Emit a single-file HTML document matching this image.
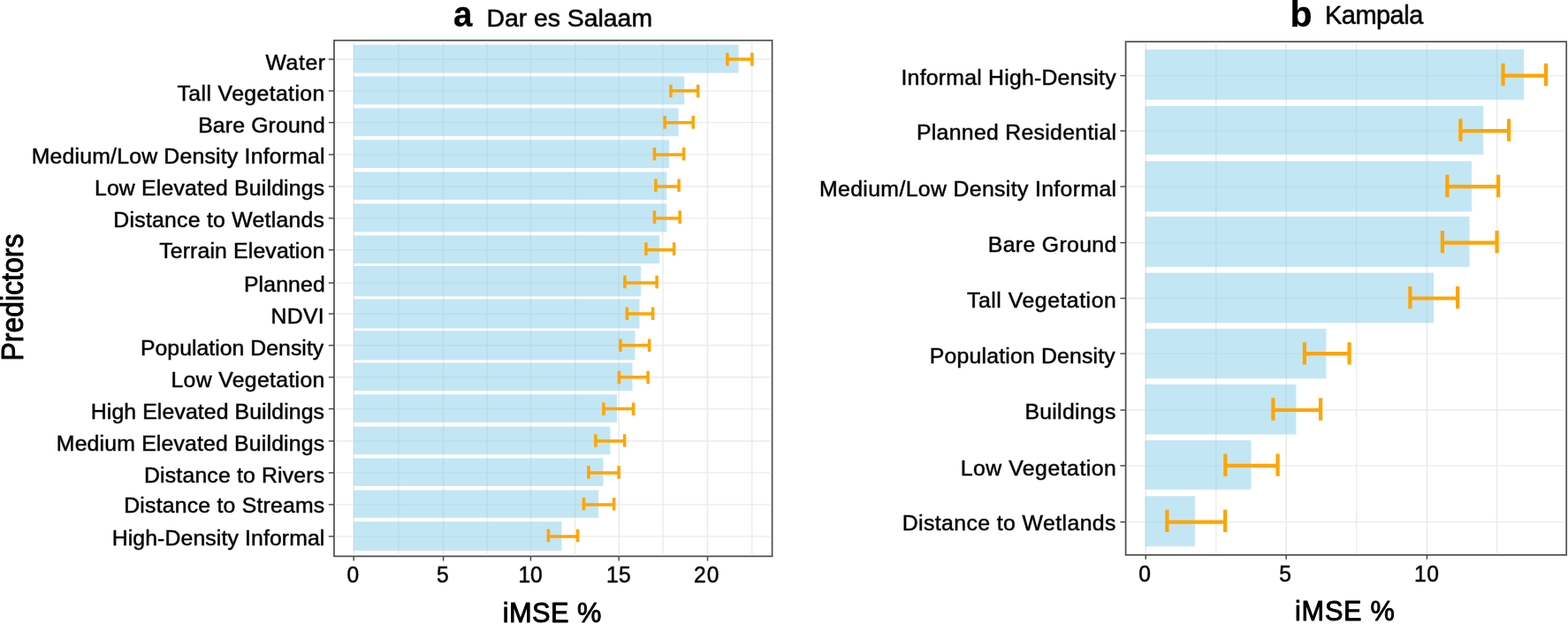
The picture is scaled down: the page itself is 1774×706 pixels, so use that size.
<!DOCTYPE html>
<html lang="en">
<head>
<meta charset="utf-8">
<title>Variable importance (iMSE %) - Dar es Salaam and Kampala</title>
<style>
html,body{margin:0;padding:0;background:#fff;}
body{width:1774px;height:706px;overflow:hidden;font-family:"Liberation Sans", Arial, Helvetica, sans-serif;}
svg{display:block;}
svg text{font-family:"Liberation Sans", Arial, Helvetica, sans-serif;}
</style>
</head>
<body>
<svg width="1774" height="706" viewBox="0 0 1774 706" font-family='"Liberation Sans", Arial, Helvetica, sans-serif' fill="#000">
<rect width="1774" height="706" fill="#fff"/>
<g id="panel-a">
<g class="grid" stroke="#ebebeb" fill="none"><line x1="450.90" x2="450.90" y1="47.90" y2="627.20" stroke-width="1.4"/><line x1="551.00" x2="551.00" y1="47.90" y2="627.20" stroke-width="1.4"/><line x1="650.80" x2="650.80" y1="47.90" y2="627.20" stroke-width="1.4"/><line x1="749.90" x2="749.90" y1="47.90" y2="627.20" stroke-width="1.4"/><line x1="850.80" x2="850.80" y1="47.90" y2="627.20" stroke-width="1.4"/><line x1="400.15" x2="400.15" y1="47.90" y2="627.20" stroke-width="1.6"/><line x1="501.60" x2="501.60" y1="47.90" y2="627.20" stroke-width="1.6"/><line x1="600.40" x2="600.40" y1="47.90" y2="627.20" stroke-width="1.6"/><line x1="700.20" x2="700.20" y1="47.90" y2="627.20" stroke-width="1.6"/><line x1="800.50" x2="800.50" y1="47.90" y2="627.20" stroke-width="1.6"/><line x1="380.20" x2="871.40" y1="67.05" y2="67.05" stroke-width="1.4"/><line x1="380.20" x2="871.40" y1="102.85" y2="102.85" stroke-width="1.4"/><line x1="380.20" x2="871.40" y1="138.65" y2="138.65" stroke-width="1.4"/><line x1="380.20" x2="871.40" y1="174.90" y2="174.90" stroke-width="1.4"/><line x1="380.20" x2="871.40" y1="211.00" y2="211.00" stroke-width="1.4"/><line x1="380.20" x2="871.40" y1="246.90" y2="246.90" stroke-width="1.4"/><line x1="380.20" x2="871.40" y1="282.80" y2="282.80" stroke-width="1.4"/><line x1="380.20" x2="871.40" y1="320.10" y2="320.10" stroke-width="1.4"/><line x1="380.20" x2="871.40" y1="355.00" y2="355.00" stroke-width="1.4"/><line x1="380.20" x2="871.40" y1="390.80" y2="390.80" stroke-width="1.4"/><line x1="380.20" x2="871.40" y1="426.80" y2="426.80" stroke-width="1.4"/><line x1="380.20" x2="871.40" y1="462.60" y2="462.60" stroke-width="1.4"/><line x1="380.20" x2="871.40" y1="499.00" y2="499.00" stroke-width="1.4"/><line x1="380.20" x2="871.40" y1="534.90" y2="534.90" stroke-width="1.4"/><line x1="380.20" x2="871.40" y1="570.90" y2="570.90" stroke-width="1.4"/><line x1="380.20" x2="871.40" y1="606.90" y2="606.90" stroke-width="1.4"/></g>
<g class="bars" fill="#87ceeb" fill-opacity="0.5"><rect x="400.00" y="50.60" width="435.60" height="31.90"/><rect x="400.00" y="86.40" width="374.20" height="31.90"/><rect x="400.00" y="122.40" width="367.60" height="31.70"/><rect x="400.00" y="158.30" width="357.00" height="31.70"/><rect x="400.00" y="194.50" width="354.30" height="31.50"/><rect x="400.00" y="230.40" width="354.30" height="31.90"/><rect x="400.00" y="266.30" width="346.00" height="31.80"/><rect x="400.00" y="301.00" width="325.00" height="34.30"/><rect x="400.00" y="338.40" width="323.50" height="33.10"/><rect x="400.00" y="374.20" width="318.50" height="33.10"/><rect x="400.00" y="410.50" width="315.50" height="31.60"/><rect x="400.00" y="446.30" width="298.00" height="31.60"/><rect x="400.00" y="482.60" width="290.50" height="31.60"/><rect x="400.00" y="518.40" width="282.50" height="31.50"/><rect x="400.00" y="554.50" width="277.00" height="31.30"/><rect x="400.00" y="590.20" width="235.50" height="32.90"/></g>
<g class="errorbars" stroke="#ffa500" stroke-width="3.5" fill="none"><path d="M822.90 59.80V74.40M822.90 67.05H850.90M850.90 59.80V74.40"/><path d="M758.90 95.70V110.30M758.90 102.85H789.70M789.70 95.70V110.30"/><path d="M752.10 131.10V145.70M752.10 138.65H784.20M784.20 131.10V145.70"/><path d="M740.40 167.00V181.60M740.40 174.90H773.60M773.60 167.00V181.60"/><path d="M741.90 202.40V217.00M741.90 211.00H768.10M768.10 202.40V217.00"/><path d="M740.40 238.30V252.90M740.40 246.90H769.10M769.10 238.30V252.90"/><path d="M730.90 274.30V288.90M730.90 282.80H762.60M762.60 274.30V288.90"/><path d="M706.90 311.70V326.30M706.90 320.10H743.10M743.10 311.70V326.30"/><path d="M709.40 347.50V362.10M709.40 355.00H738.60M738.60 347.50V362.10"/><path d="M701.90 383.50V398.10M701.90 390.80H734.60M734.60 383.50V398.10"/><path d="M700.40 419.70V434.30M700.40 426.80H733.10M733.10 419.70V434.30"/><path d="M682.90 455.50V470.10M682.90 462.60H716.60M716.60 455.50V470.10"/><path d="M673.90 491.20V505.80M673.90 499.00H706.60M706.60 491.20V505.80"/><path d="M665.90 527.10V541.70M665.90 534.90H700.10M700.10 527.10V541.70"/><path d="M660.40 563.00V577.60M660.40 570.90H694.60M694.60 563.00V577.60"/><path d="M620.40 598.70V613.30M620.40 606.90H653.60M653.60 598.70V613.30"/></g>
<rect class="border" x="378.0" y="45.7" width="495.60" height="583.70" fill="none" stroke="#4d4d4d" stroke-width="1.7"/>
<g class="ticks" stroke="#444" stroke-width="1.4"><line x1="371.80" x2="378.00" y1="67.05" y2="67.05"/><line x1="371.80" x2="378.00" y1="102.85" y2="102.85"/><line x1="371.80" x2="378.00" y1="138.65" y2="138.65"/><line x1="371.80" x2="378.00" y1="174.90" y2="174.90"/><line x1="371.80" x2="378.00" y1="211.00" y2="211.00"/><line x1="371.80" x2="378.00" y1="246.90" y2="246.90"/><line x1="371.80" x2="378.00" y1="282.80" y2="282.80"/><line x1="371.80" x2="378.00" y1="320.10" y2="320.10"/><line x1="371.80" x2="378.00" y1="355.00" y2="355.00"/><line x1="371.80" x2="378.00" y1="390.80" y2="390.80"/><line x1="371.80" x2="378.00" y1="426.80" y2="426.80"/><line x1="371.80" x2="378.00" y1="462.60" y2="462.60"/><line x1="371.80" x2="378.00" y1="499.00" y2="499.00"/><line x1="371.80" x2="378.00" y1="534.90" y2="534.90"/><line x1="371.80" x2="378.00" y1="570.90" y2="570.90"/><line x1="371.80" x2="378.00" y1="606.90" y2="606.90"/><line x1="400.15" x2="400.15" y1="629.40" y2="634.60"/><line x1="501.60" x2="501.60" y1="629.40" y2="634.60"/><line x1="600.40" x2="600.40" y1="629.40" y2="634.60"/><line x1="700.20" x2="700.20" y1="629.40" y2="634.60"/><line x1="800.50" x2="800.50" y1="629.40" y2="634.60"/></g>
</g>
<g id="panel-b">
<g class="grid" stroke="#ebebeb" fill="none"><line x1="1375.80" x2="1375.80" y1="49.35" y2="625.70" stroke-width="1.4"/><line x1="1534.60" x2="1534.60" y1="49.35" y2="625.70" stroke-width="1.4"/><line x1="1693.70" x2="1693.70" y1="49.35" y2="625.70" stroke-width="1.4"/><line x1="1296.20" x2="1296.20" y1="49.35" y2="625.70" stroke-width="1.6"/><line x1="1455.20" x2="1455.20" y1="49.35" y2="625.70" stroke-width="1.6"/><line x1="1614.40" x2="1614.40" y1="49.35" y2="625.70" stroke-width="1.6"/><line x1="1275.80" x2="1770.00" y1="85.60" y2="85.60" stroke-width="1.4"/><line x1="1275.80" x2="1770.00" y1="148.10" y2="148.10" stroke-width="1.4"/><line x1="1275.80" x2="1770.00" y1="211.10" y2="211.10" stroke-width="1.4"/><line x1="1275.80" x2="1770.00" y1="274.60" y2="274.60" stroke-width="1.4"/><line x1="1275.80" x2="1770.00" y1="337.50" y2="337.50" stroke-width="1.4"/><line x1="1275.80" x2="1770.00" y1="400.10" y2="400.10" stroke-width="1.4"/><line x1="1275.80" x2="1770.00" y1="464.00" y2="464.00" stroke-width="1.4"/><line x1="1275.80" x2="1770.00" y1="526.90" y2="526.90" stroke-width="1.4"/><line x1="1275.80" x2="1770.00" y1="590.60" y2="590.60" stroke-width="1.4"/></g>
<g class="bars" fill="#87ceeb" fill-opacity="0.5"><rect x="1295.50" y="55.90" width="428.60" height="56.90"/><rect x="1295.50" y="120.00" width="382.70" height="54.90"/><rect x="1295.50" y="182.30" width="369.50" height="57.10"/><rect x="1295.50" y="245.00" width="367.00" height="56.90"/><rect x="1295.50" y="308.70" width="326.50" height="56.70"/><rect x="1295.50" y="371.90" width="205.00" height="56.40"/><rect x="1295.50" y="434.90" width="171.00" height="56.60"/><rect x="1295.50" y="498.20" width="120.00" height="55.70"/><rect x="1295.50" y="561.30" width="56.50" height="56.90"/></g>
<g class="errorbars" stroke="#ffa500" stroke-width="4.2" fill="none"><path d="M1700.50 71.85V97.15M1700.50 85.60H1749.10M1749.10 71.85V97.15"/><path d="M1652.40 134.55V159.85M1652.40 148.10H1707.10M1707.10 134.55V159.85"/><path d="M1637.40 197.75V223.05M1637.40 211.10H1695.10M1695.10 197.75V223.05"/><path d="M1631.90 260.95V286.25M1631.90 274.60H1693.60M1693.60 260.95V286.25"/><path d="M1595.40 324.05V349.35M1595.40 337.50H1649.10M1649.10 324.05V349.35"/><path d="M1475.90 387.15V412.45M1475.90 400.10H1526.60M1526.60 387.15V412.45"/><path d="M1440.40 450.35V475.65M1440.40 464.00H1494.10M1494.10 450.35V475.65"/><path d="M1386.40 513.45V538.75M1386.40 526.90H1445.60M1445.60 513.45V538.75"/><path d="M1320.40 576.65V601.95M1320.40 590.60H1386.10M1386.10 576.65V601.95"/></g>
<rect class="border" x="1273.6" y="47.15" width="498.60" height="580.75" fill="none" stroke="#4d4d4d" stroke-width="1.7"/>
<g class="ticks" stroke="#444" stroke-width="1.4"><line x1="1267.40" x2="1273.60" y1="85.60" y2="85.60"/><line x1="1267.40" x2="1273.60" y1="148.10" y2="148.10"/><line x1="1267.40" x2="1273.60" y1="211.10" y2="211.10"/><line x1="1267.40" x2="1273.60" y1="274.60" y2="274.60"/><line x1="1267.40" x2="1273.60" y1="337.50" y2="337.50"/><line x1="1267.40" x2="1273.60" y1="400.10" y2="400.10"/><line x1="1267.40" x2="1273.60" y1="464.00" y2="464.00"/><line x1="1267.40" x2="1273.60" y1="526.90" y2="526.90"/><line x1="1267.40" x2="1273.60" y1="590.60" y2="590.60"/><line x1="1296.20" x2="1296.20" y1="627.90" y2="632.90"/><line x1="1455.20" x2="1455.20" y1="627.90" y2="632.90"/><line x1="1614.40" x2="1614.40" y1="627.90" y2="632.90"/></g>
</g>
<g id="labels">
<text x="300.43" y="78.65" font-size="24.8" stroke="#000" stroke-width="0.9" stroke-linejoin="round" stroke-opacity="0.55" letter-spacing="0.609">Water</text>
<text x="200.57" y="113.85" font-size="24.8" stroke="#000" stroke-width="0.9" stroke-linejoin="round" stroke-opacity="0.55" letter-spacing="0.384">Tall Vegetation</text>
<text x="224.13" y="149.55" font-size="24.8" stroke="#000" stroke-width="0.9" stroke-linejoin="round" stroke-opacity="0.55" letter-spacing="0.157">Bare Ground</text>
<text x="35.63" y="184.65" font-size="24.8" stroke="#000" stroke-width="0.9" stroke-linejoin="round" stroke-opacity="0.55" letter-spacing="0.205">Medium/Low Density Informal</text>
<text x="106.93" y="220.50" font-size="24.8" stroke="#000" stroke-width="0.9" stroke-linejoin="round" stroke-opacity="0.55" letter-spacing="0.183">Low Elevated Buildings</text>
<text x="128.33" y="256.60" font-size="24.8" stroke="#000" stroke-width="0.9" stroke-linejoin="round" stroke-opacity="0.55" letter-spacing="0.251">Distance to Wetlands</text>
<text x="180.17" y="292.30" font-size="24.8" stroke="#000" stroke-width="0.9" stroke-linejoin="round" stroke-opacity="0.55" letter-spacing="0.151">Terrain Elevation</text>
<text x="275.93" y="330.20" font-size="24.8" stroke="#000" stroke-width="0.9" stroke-linejoin="round" stroke-opacity="0.55" letter-spacing="0.129">Planned</text>
<text x="306.53" y="365.95" font-size="24.8" stroke="#000" stroke-width="0.9" stroke-linejoin="round" stroke-opacity="0.55" letter-spacing="0.279">NDVI</text>
<text x="158.93" y="402.10" font-size="24.8" stroke="#000" stroke-width="0.9" stroke-linejoin="round" stroke-opacity="0.55" letter-spacing="0.032">Population Density</text>
<text x="193.43" y="437.50" font-size="24.8" stroke="#000" stroke-width="0.9" stroke-linejoin="round" stroke-opacity="0.55" letter-spacing="0.337">Low Vegetation</text>
<text x="102.83" y="474.00" font-size="24.8" stroke="#000" stroke-width="0.9" stroke-linejoin="round" stroke-opacity="0.55" letter-spacing="0.103">High Elevated Buildings</text>
<text x="63.83" y="509.65" font-size="24.8" stroke="#000" stroke-width="0.9" stroke-linejoin="round" stroke-opacity="0.55" letter-spacing="0.174">Medium Elevated Buildings</text>
<text x="163.03" y="545.70" font-size="24.8" stroke="#000" stroke-width="0.9" stroke-linejoin="round" stroke-opacity="0.55" letter-spacing="0.174">Distance to Rivers</text>
<text x="140.23" y="580.40" font-size="24.8" stroke="#000" stroke-width="0.9" stroke-linejoin="round" stroke-opacity="0.55" letter-spacing="0.209">Distance to Streams</text>
<text x="126.63" y="617.30" font-size="24.8" stroke="#000" stroke-width="0.9" stroke-linejoin="round" stroke-opacity="0.55" letter-spacing="0.117">High-Density Informal</text>
<text x="1019.49" y="95.60" font-size="24.8" stroke="#000" stroke-width="0.9" stroke-linejoin="round" stroke-opacity="0.55" letter-spacing="0.234">Informal High-Density</text>
<text x="1036.93" y="158.40" font-size="24.8" stroke="#000" stroke-width="0.9" stroke-linejoin="round" stroke-opacity="0.55" letter-spacing="0.307">Planned Residential</text>
<text x="927.03" y="221.60" font-size="24.8" stroke="#000" stroke-width="0.9" stroke-linejoin="round" stroke-opacity="0.55" letter-spacing="0.363">Medium/Low Density Informal</text>
<text x="1117.83" y="284.50" font-size="24.8" stroke="#000" stroke-width="0.9" stroke-linejoin="round" stroke-opacity="0.55" letter-spacing="0.337">Bare Ground</text>
<text x="1094.07" y="348.40" font-size="24.8" stroke="#000" stroke-width="0.9" stroke-linejoin="round" stroke-opacity="0.55" letter-spacing="0.527">Tall Vegetation</text>
<text x="1051.83" y="411.30" font-size="24.8" stroke="#000" stroke-width="0.9" stroke-linejoin="round" stroke-opacity="0.55" letter-spacing="0.185">Population Density</text>
<text x="1159.43" y="474.30" font-size="24.8" stroke="#000" stroke-width="0.9" stroke-linejoin="round" stroke-opacity="0.55" letter-spacing="0.284">Buildings</text>
<text x="1086.73" y="537.50" font-size="24.8" stroke="#000" stroke-width="0.9" stroke-linejoin="round" stroke-opacity="0.55" letter-spacing="0.507">Low Vegetation</text>
<text x="1020.63" y="600.30" font-size="24.8" stroke="#000" stroke-width="0.9" stroke-linejoin="round" stroke-opacity="0.55" letter-spacing="0.420">Distance to Wetlands</text>
<text transform="translate(392.57 659.30) scale(1 1.07)" font-size="24.6" stroke="#000" stroke-width="0.9" stroke-linejoin="round" stroke-opacity="0.55">0</text>
<text transform="translate(494.01 659.30) scale(1 1.07)" font-size="24.6" stroke="#000" stroke-width="0.9" stroke-linejoin="round" stroke-opacity="0.55">5</text>
<text transform="translate(586.50 659.30) scale(1 1.07)" font-size="24.6" stroke="#000" stroke-width="0.9" stroke-linejoin="round" stroke-opacity="0.55" letter-spacing="-0.080">10</text>
<text transform="translate(686.10 659.30) scale(1 1.07)" font-size="24.6" stroke="#000" stroke-width="0.9" stroke-linejoin="round" stroke-opacity="0.55" letter-spacing="0.290">15</text>
<text transform="translate(785.11 659.30) scale(1 1.07)" font-size="24.6" stroke="#000" stroke-width="0.9" stroke-linejoin="round" stroke-opacity="0.55" letter-spacing="0.916">20</text>
<text transform="translate(1288.27 657.90) scale(1 1.07)" font-size="24.6" stroke="#000" stroke-width="0.9" stroke-linejoin="round" stroke-opacity="0.55">0</text>
<text transform="translate(1447.21 657.90) scale(1 1.07)" font-size="24.6" stroke="#000" stroke-width="0.9" stroke-linejoin="round" stroke-opacity="0.55">5</text>
<text transform="translate(1600.00 657.90) scale(1 1.07)" font-size="24.6" stroke="#000" stroke-width="0.9" stroke-linejoin="round" stroke-opacity="0.55" letter-spacing="0.620">10</text>
<text transform="translate(513.00 29.70) scale(1 1.068)" font-size="38.4" font-weight="bold" stroke="#000" stroke-width="0.3" stroke-linejoin="round">a</text>
<text x="550.47" y="30.00" font-size="28.4" stroke="#000" stroke-width="0.9" stroke-linejoin="round" stroke-opacity="0.6" letter-spacing="-0.016">Dar es Salaam</text>
<text x="1459.60" y="29.90" font-size="41" font-weight="bold" stroke="#000" stroke-width="0.3" stroke-linejoin="round">b</text>
<text x="1498.95" y="27.40" font-size="28.9" stroke="#000" stroke-width="0.9" stroke-linejoin="round" stroke-opacity="0.6" letter-spacing="-0.447">Kampala</text>
<text x="568.78" y="703.55" font-size="30.8" stroke="#000" stroke-width="0.9" stroke-linejoin="round" letter-spacing="0.397">iMSE %</text>
<text x="1465.10" y="701.70" font-size="30.7" stroke="#000" stroke-width="0.9" stroke-linejoin="round" letter-spacing="0.706">iMSE %</text>
<text transform="translate(26.2 336.6) rotate(-90) scale(1 1.1)" font-size="32" text-anchor="middle" stroke="#000" stroke-width="0.9" stroke-linejoin="round">Predictors</text>
</g>
</svg>
</body>
</html>
